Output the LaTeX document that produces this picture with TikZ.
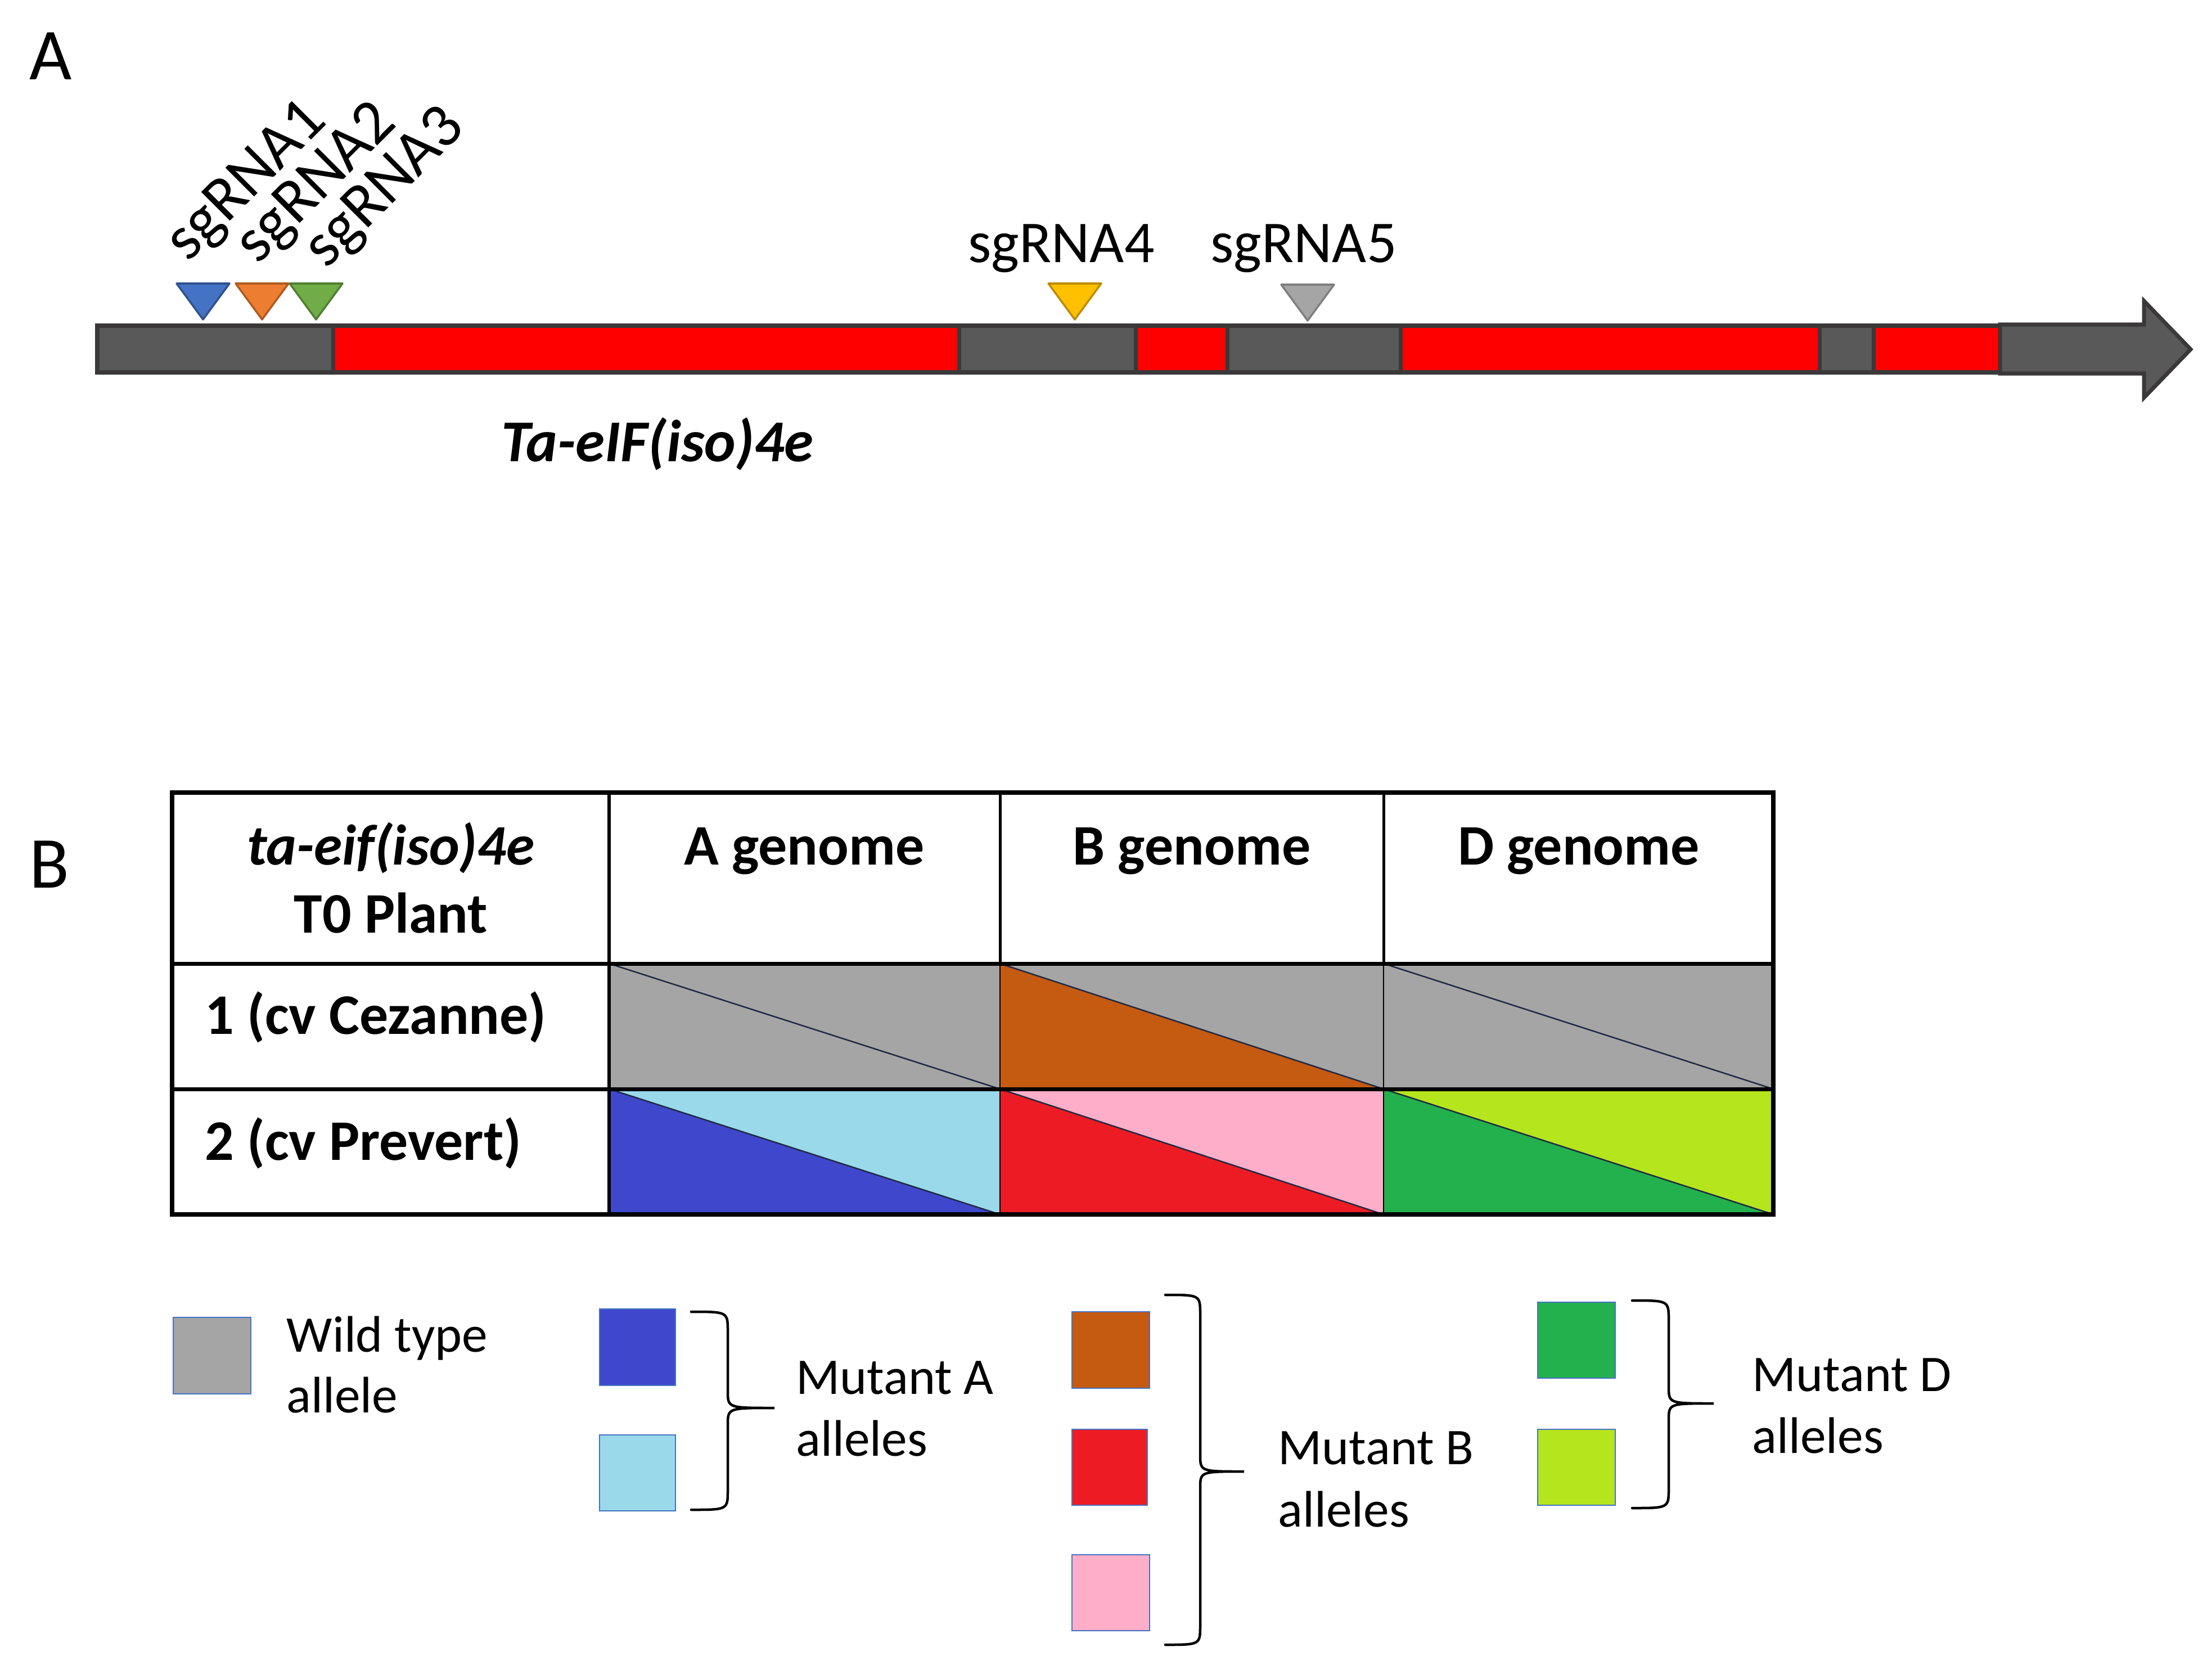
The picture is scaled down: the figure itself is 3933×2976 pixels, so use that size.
\documentclass[tikz,border=0pt]{standalone}
\usepackage{fontspec}
\setmainfont{Carlito}
\definecolor{bargray}{HTML}{595959}
\definecolor{barline}{HTML}{3A3838}
\definecolor{exred}{HTML}{FF0000}
\definecolor{tblue}{HTML}{4472C4}\definecolor{tblueD}{HTML}{2F528F}
\definecolor{torange}{HTML}{ED7D31}\definecolor{torangeD}{HTML}{AE5A21}
\definecolor{tgreen}{HTML}{70AD47}\definecolor{tgreenD}{HTML}{507E32}
\definecolor{tyellow}{HTML}{FFC000}\definecolor{tyellowD}{HTML}{BC8C00}
\definecolor{tgray}{HTML}{A5A5A5}\definecolor{tgrayD}{HTML}{7F7F7F}
\definecolor{wt}{HTML}{A5A5A5}
\definecolor{brown}{HTML}{C55A11}
\definecolor{dblue}{HTML}{3F48CC}
\definecolor{lblue}{HTML}{99D9EA}
\definecolor{mred}{HTML}{ED1C24}
\definecolor{pink}{HTML}{FFAEC9}
\definecolor{dgreen}{HTML}{22B14C}
\definecolor{lime}{HTML}{B5E61D}
\definecolor{diagc}{HTML}{1F2A44}
\definecolor{legline}{HTML}{4472C4}
\tikzset{
  seg/.style={draw=barline, line width=0.07cm},
  tri/.style={line width=0.035cm, line join=round},
  panel/.style={font=\fontsize{37}{44}\selectfont, inner sep=0pt},
  sglbl/.style={font=\fontsize{30}{36}\selectfont, inner sep=0pt},
  sgrot/.style={font=\fontsize{32}{38}\selectfont, inner sep=0pt, rotate=45, anchor=base west},
  genelbl/.style={font=\fontsize{30}{36}\selectfont\bfseries\itshape, inner sep=0pt},
  tbl/.style={font=\fontsize{29}{35}\selectfont\bfseries, inner sep=0pt},
  leg/.style={font=\fontsize{26}{31}\selectfont, inner sep=0pt, anchor=base west},
  legbox/.style={draw=legline, line width=0.02cm},
  diag/.style={draw=diagc, line width=0.025cm},
  brc/.style={draw=black, line width=0.045cm, line cap=round}
}
\newcommand{\mybrace}[6]{% x0 x1 xt ytop ymid ybot
  \draw[brc] (#1,#4) .. controls ({#2},{#4}) and ({#2},{#4}) .. ({#2},{#4+35})
    -- ({#2},{#5-30}) .. controls ({#2},{#5}) and ({#2},{#5}) .. (#3,#5)
    .. controls ({#2},{#5}) and ({#2},{#5}) .. ({#2},{#5+30})
    -- ({#2},{#6-35}) .. controls ({#2},{#6}) and ({#2},{#6}) .. (#1,#6);}
\newcommand{\cell}[6]{% x0 y0 x1 y1 lower upper
  \fill[#6] (#1,#2) rectangle (#3,#4);
  \fill[#5] (#1,#2) -- (#3,#4) -- (#1,#4) -- cycle;
  \draw[diag] (#1,#2) -- (#3,#4);}
\begin{document}
\begin{tikzpicture}[x=0.01cm,y=-0.01cm]
\useasboundingbox (0,0) rectangle (3933,2976);
% ---------- Panel A ----------
\node[panel] (labA) at (90,100) {A};
% gene bar
\draw[seg, fill=bargray] (173,579) rectangle (592,662);
\draw[seg, fill=exred] (592,579) rectangle (1705,662);
\draw[seg, fill=bargray] (1705,579) rectangle (2019,662);
\draw[seg, fill=exred] (2019,579) rectangle (2182,662);
\draw[seg, fill=bargray] (2182,579) rectangle (2490,662);
\draw[seg, fill=exred] (2490,579) rectangle (3235,662);
\draw[seg, fill=bargray] (3235,579) rectangle (3331,662);
\draw[seg, fill=exred] (3331,579) rectangle (3556,662);
\draw[seg, fill=bargray, line join=miter] (3556,577) -- (3812,577) -- (3812,535) -- (3895,621)
  -- (3812,707) -- (3812,664) -- (3556,664) -- cycle;
% sgRNA triangles
\draw[tri, fill=tblue, draw=tblueD] (314,504) -- (408,504) -- (361,568) -- cycle;
\draw[tri, fill=torange, draw=torangeD] (419,504) -- (513,504) -- (466,568) -- cycle;
\draw[tri, fill=tgreen, draw=tgreenD] (515,504) -- (609,504) -- (562,568) -- cycle;
\draw[tri, fill=tyellow, draw=tyellowD] (1864,504) -- (1958,504) -- (1911,568) -- cycle;
\draw[tri, fill=tgray, draw=tgrayD] (2278,506) -- (2372,506) -- (2325,570) -- cycle;
% labels
\node[sgrot] (sg1) at (334,468) {sgRNA1};
\node[sgrot] (sg2) at (458,472) {sgRNA2};
\node[sgrot] (sg3) at (580,480) {sgRNA3};
\node[sglbl, anchor=base] (sg4) at (1887,466) {sgRNA4};
\node[sglbl, anchor=base] (sg5) at (2318,466) {sgRNA5};
\node[genelbl, anchor=base] (gene) at (1169,820) {Ta-eIF(iso)4e};
% ---------- Panel B ----------
\node[panel] (labB) at (88,1537) {B};
% colored cells
\cell{1083}{1713}{1778}{1936}{wt}{wt}
\cell{1778}{1713}{2460}{1936}{brown}{wt}
\cell{2460}{1713}{3153}{1936}{wt}{wt}
\cell{1083}{1936}{1778}{2159}{dblue}{lblue}
\cell{1778}{1936}{2460}{2159}{mred}{pink}
\cell{2460}{1936}{3153}{2159}{dgreen}{lime}
% grid
\draw[line width=0.05cm] (1778,1409) -- (1778,1713);
\draw[line width=0.05cm] (2460,1409) -- (2460,1713);
\draw[line width=0.025cm] (1778,1713) -- (1778,2159);
\draw[line width=0.025cm] (2460,1713) -- (2460,2159);
\draw[line width=0.06cm] (1083,1409) -- (1083,2159);
\draw[line width=0.07cm] (306,1713) -- (3153,1713);
\draw[line width=0.07cm] (306,1936) -- (3153,1936);
\draw[line width=0.08cm] (306,1409) rectangle (3153,2159);
% table texts
\node[tbl, anchor=base, font=\fontsize{29}{35}\selectfont\bfseries\itshape] (h0a) at (695,1537) {ta-eif(iso)4e};
\node[tbl, anchor=base] (h0b) at (695,1658) {T0 Plant};
\node[tbl, anchor=base] (hA) at (1430,1537) {A genome};
\node[tbl, anchor=base] (hB) at (2119,1537) {B genome};
\node[tbl, anchor=base] (hD) at (2807,1537) {D genome};
\node[tbl, anchor=base west] (r1) at (364,1838) {1 (cv Cezanne)};
\node[tbl, anchor=base west] (r2) at (364,2062) {2 (cv Prevert)};
% ---------- Legend ----------
\draw[legbox, fill=wt] (308,2342) rectangle (446,2478);
\node[leg] (wt1) at (509,2403) {Wild type};
\node[leg] (wt2) at (509,2511) {allele};
\draw[legbox, fill=dblue] (1066,2327) rectangle (1201,2463);
\draw[legbox, fill=lblue] (1066,2551) rectangle (1201,2686);
\mybrace{1229}{1294}{1377}{2332}{2503}{2684}
\node[leg] (ma1) at (1415,2478) {Mutant A};
\node[leg] (ma2) at (1415,2588) {alleles};
\draw[legbox, fill=brown] (1906,2332) rectangle (2044,2468);
\draw[legbox, fill=mred] (1906,2541) rectangle (2040,2676);
\draw[legbox, fill=pink] (1906,2764) rectangle (2044,2899);
\mybrace{2072}{2134}{2212}{2302}{2616}{2924}
\node[leg] (mb1) at (2272,2603) {Mutant B};
\node[leg] (mb2) at (2272,2714) {alleles};
\draw[legbox, fill=dgreen] (2734,2315) rectangle (2872,2450);
\draw[legbox, fill=lime] (2734,2541) rectangle (2872,2676);
\mybrace{2902}{2967}{3047}{2312}{2495}{2681}
\node[leg] (md1) at (3115,2473) {Mutant D};
\node[leg] (md2) at (3115,2583) {alleles};
\end{tikzpicture}
\end{document}
